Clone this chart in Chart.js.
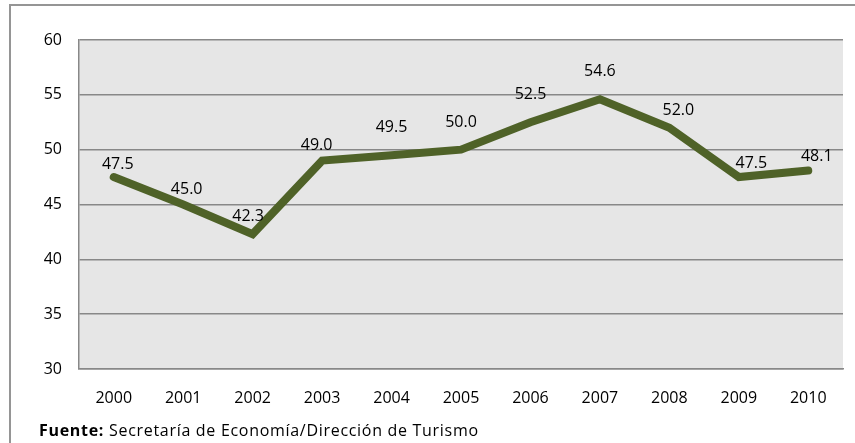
<!DOCTYPE html>
<html>
<head>
<meta charset="utf-8">
<title>Serie 2000-2010</title>
<script src="https://cdn.jsdelivr.net/npm/chart.js@4.4.1/dist/chart.umd.min.js"></script>
<style>
  html, body { margin: 0; padding: 0; background: #fff; }
  #wrap { position: relative; width: 855px; height: 443px; overflow: hidden; }
  #frame {
    position: absolute; left: 9px; top: 4px; width: 900px; height: 500px;
    border-top: 2px solid #959595; border-left: 2px solid #959595;
  }
  #chart { position: absolute; left: 0; top: 0; }
  #fuente {
    position: absolute; left: 39px; top: 420px;
    font: 16px "Open Sans", sans-serif; line-height: 20px; letter-spacing: 0.7px;
    color: #000; white-space: nowrap;
  }
</style>
</head>
<body>
<div id="wrap">
  <div id="frame"></div>
  <canvas id="chart" width="855" height="443"></canvas>
  <div id="fuente"><b>Fuente:</b> Secretaría de Economía/Dirección de Turismo</div>
</div>
<script>
// data
const years = ['2000', '2001', '2002', '2003', '2004', '2005', '2006', '2007', '2008', '2009', '2010'];
const values = [47.5, 45.0, 42.3, 49.0, 49.5, 50.0, 52.5, 54.6, 52.0, 47.5, 48.1];
const yTicks = [30, 35, 40, 45, 50, 55, 60];

// where each value label sits relative to its point (px)
const labelShift = [[4, -12.5], [3.5, -15], [-4.5, -18], [-5.5, -15], [0, -28], [0, -27.5],
                    [0, -27.5], [0, -27.5], [9, -17], [12.5, -14], [8.5, -14]];

const FONT = '"Open Sans", sans-serif';

// gray plot area
const plotBg = {
    id: 'plotBg',
    beforeDraw(chart) {
        const { ctx, chartArea: a } = chart;
        ctx.save();
        ctx.fillStyle = '#e6e6e6';
        ctx.fillRect(a.left, a.top, a.right - a.left, a.bottom - a.top);
        ctx.restore();
    }
};

// value labels over the line
const valueLabels = {
    id: 'valueLabels',
    afterDatasetsDraw(chart) {
        const ctx = chart.ctx;
        const pts = chart.getDatasetMeta(0).data;
        ctx.save();
        ctx.font = '16px ' + FONT;
        ctx.fillStyle = '#000';
        ctx.textAlign = 'center';
        ctx.textBaseline = 'middle';
        pts.forEach((p, i) => {
            const s = labelShift[i];
            ctx.fillText(values[i].toFixed(1), p.x + s[0], p.y + s[1]);
        });
        ctx.restore();
    }
};

const ctx = document.getElementById('chart').getContext('2d');
const myChart = new Chart(ctx, {
    type: 'line',
    data: {
        labels: years,
        datasets: [{
            data: values,
            borderColor: '#4f6228',
            borderWidth: 8,
            borderCapStyle: 'round',
            borderJoinStyle: 'miter',
            pointRadius: 0,
            pointHoverRadius: 0,
            tension: 0,
            fill: false
        }]
    },
    options: {
        responsive: false,
        animation: false,
        events: [],
        layout: { padding: { left: 0, top: 40, right: 12, bottom: 0 } },
        plugins: {
            legend: { display: false },
            tooltip: { enabled: false }
        },
        scales: {
            x: {
                offset: true,
                grid: { display: false, drawTicks: false, offset: true },
                border: { display: true, color: '#888', width: 1.5 },
                ticks: { color: '#000', font: { family: FONT, size: 16 }, padding: 20, maxRotation: 0 },
                afterFit(scale) { scale.height = 74; }
            },
            y: {
                min: 30,
                max: 60,
                afterBuildTicks(scale) { scale.ticks = yTicks.map(v => ({ value: v })); },
                grid: { color: '#888', lineWidth: 1.5, drawTicks: false },
                border: { display: true, color: '#888', width: 1.5 },
                ticks: { color: '#000', font: { family: FONT, size: 16 }, padding: 17 },
                afterFit(scale) { scale.width = 79; }
            }
        }
    },
    plugins: [plotBg, valueLabels]
});
</script>
</body>
</html>
